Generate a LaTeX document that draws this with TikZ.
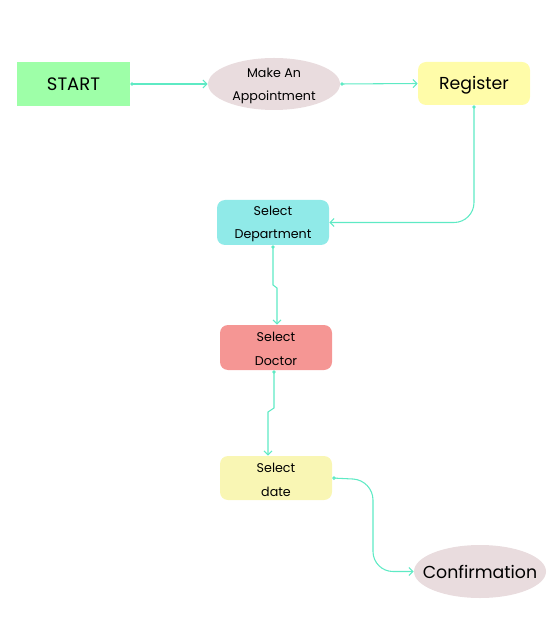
\documentclass[tikz,border=0pt]{standalone}
\usepackage{fontspec}
\setmainfont{Poppins}
\usetikzlibrary{shapes.geometric,arrows.meta}
\definecolor{startgreen}{HTML}{9EFFA8}
\definecolor{ovalrose}{HTML}{E9DCDE}
\definecolor{regyellow}{HTML}{FFFCA9}
\definecolor{deptcyan}{HTML}{90EAE8}
\definecolor{docred}{HTML}{F59694}
\definecolor{dateyellow}{HTML}{F9F6B4}
\definecolor{flow}{HTML}{5EEAC4}
\tikzset{
  box/.style={rectangle, draw=none, inner sep=0pt, align=center, text=black},
  roundbox/.style={box, rounded corners=6pt},
  oval/.style={ellipse, fill=ovalrose, draw=none, inner sep=0pt},
  label text/.style={inner sep=0pt, align=center, text=black},
  small/.style={font=\fontsize{9.5}{17.5}\selectfont},
  big/.style={font=\fontsize{13}{15}\selectfont},
  link/.style={draw=flow, line width=0.8pt, {Circle[open,length=2.6pt,fill=white]}-{Straight Barb[length=3pt,width=6pt]}}
}
\begin{document}
\begin{tikzpicture}[x=0.75pt,y=-0.75pt]
  \useasboundingbox (0,0) rectangle (555,630);
  % boxes
  \node[box, fill=startgreen, minimum width=84.75pt, minimum height=33pt,
        font=\fontsize{13.5}{15}\selectfont] (start) at (73.5,84) {START};
  \node[roundbox, fill=regyellow, minimum width=84pt, minimum height=32.25pt] (reg) at (474,83.5) {};
  \node[label text, big] (regtext) at (474,85) {Register};
  \node[roundbox, fill=deptcyan, minimum width=84pt, minimum height=33.75pt] (dept) at (273,222.5) {};
  \node[label text, small] (depttext) at (273,224) {Select\\Department};
  \node[roundbox, fill=docred, minimum width=84pt, minimum height=33.75pt] (doc) at (276,347.5) {};
  \node[label text, small] (doctext) at (276,349) {Select\\Doctor};
  \node[roundbox, fill=dateyellow, minimum width=84pt, minimum height=33pt] (date) at (276,478) {};
  \node[label text, small] (datetext) at (276,480) {Select\\date};
  % ovals
  \node[oval, minimum width=99pt, minimum height=39pt] (appt) at (274,84) {};
  \node[label text, small] (appttext) at (274,86) {Make An\\Appointment};
  \node[oval, minimum width=99pt, minimum height=39.75pt] (conf) at (480,571.5) {};
  \node[label text, big] (conftext) at (480,572) {Confirmation};
  % waypoints
  \coordinate (d1) at (273,285);
  \coordinate (d2) at (277,288);
  \coordinate (c1) at (274,408);
  \coordinate (c2) at (268,412);
  % connectors
  \draw[link] (start.east) -- (appt.west);
  \draw[link] (appt.east) -- (reg.west);
  \draw[link, rounded corners=15pt] (reg.south) |- (dept.east);
  \draw[link] (dept.south) -- (d1) -- (d2) -- (doc.north -| d2);
  \draw[link] (doc.south -| c1) -- (c1) -- (c2) -- (date.north -| c2);
  \draw[link, rounded corners=15pt] (date.east) -- (373,480) |- (conf.west);
\end{tikzpicture}
\end{document}
